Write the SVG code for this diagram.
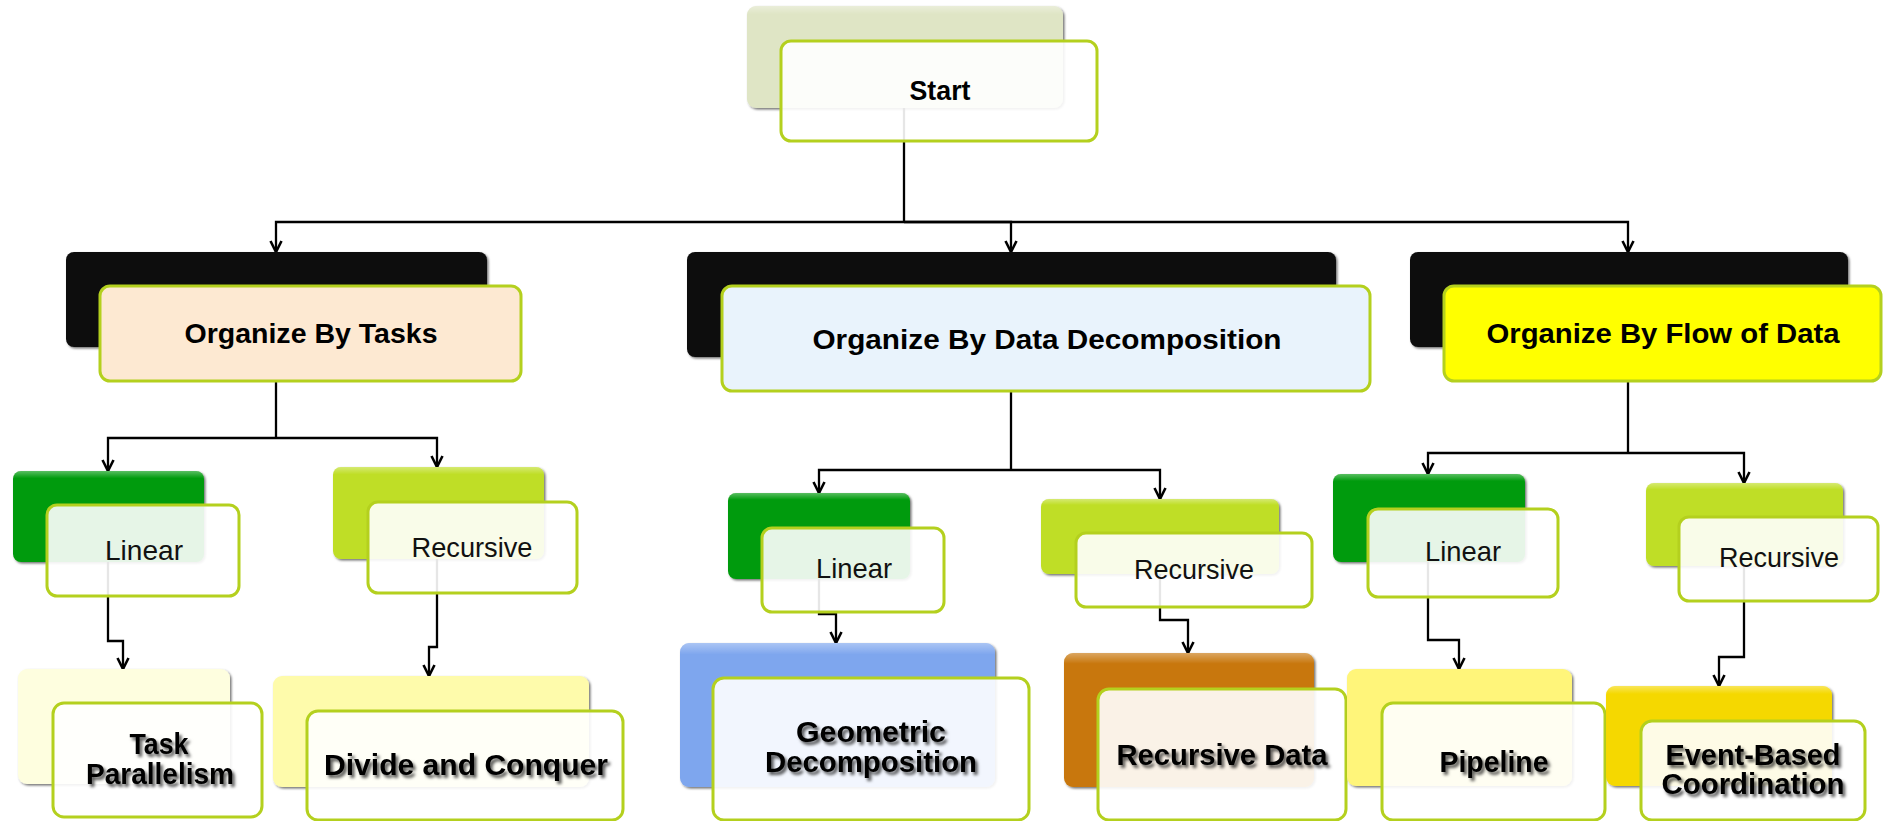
<svg xmlns="http://www.w3.org/2000/svg" width="1884" height="821" viewBox="0 0 1884 821">
  <defs>
    <!-- soft shadow under the coloured back cards -->
    <filter id="cardShadow" x="-5%" y="-5%" width="112%" height="115%">
      <feDropShadow dx="1.5" dy="1.5" stdDeviation="1.2" flood-color="#000" flood-opacity="0.55"/>
    </filter>
    <!-- blurred drop shadow behind the leaf labels -->
    <filter id="textShadow" x="-10%" y="-30%" width="125%" height="170%">
      <feDropShadow dx="2.5" dy="3" stdDeviation="1.8" flood-color="#000" flood-opacity="0.65"/>
    </filter>
    <linearGradient id="gloss" x1="0" y1="0" x2="0" y2="1">
      <stop offset="0" stop-color="#fff" stop-opacity="0.35"/>
      <stop offset="0.08" stop-color="#fff" stop-opacity="0"/>
      <stop offset="1" stop-color="#fff" stop-opacity="0"/>
    </linearGradient>
    <marker id="arrow" viewBox="0 0 14 14" refX="12.5" refY="7" markerWidth="14" markerHeight="14" markerUnits="userSpaceOnUse" orient="auto">
      <path d="M1.5,1.5 L12.5,7 L1.5,12.5" fill="none" stroke="#000" stroke-width="2.6" stroke-linejoin="miter"/>
    </marker>
    <style>
      .back { filter: url(#cardShadow); }
      .shine { fill: url(#gloss); }
      .front { fill: #fff; fill-opacity: 0.9; stroke: #b4d01e; stroke-width: 3; }
      .front-solid { stroke: #b4d01e; stroke-width: 3; }
      text { font-family: "Liberation Sans", Arial, sans-serif; font-size: 28px; text-anchor: middle; }
      .title { font-weight: bold; fill: #000; }
      .sub { fill: #111; }
      .leaf { font-weight: bold; font-size: 29px; fill: #000; filter: url(#textShadow); }
      .wire { fill: none; stroke: #000; stroke-width: 2.3; }
    </style>
  </defs>

  <rect width="1884" height="821" fill="#fff"/>

  <!-- connectors (drawn first so the translucent cards veil them) -->
  <g id="connectors">
    <path class="wire" d="M904,108 V222"/>
    <path class="wire" d="M904,222 H276 V252" marker-end="url(#arrow)"/>
    <path class="wire" d="M904,222 H1011 V252" marker-end="url(#arrow)"/>
    <path class="wire" d="M904,222 H1628 V252" marker-end="url(#arrow)"/>

    <path class="wire" d="M276,347 V438"/>
    <path class="wire" d="M276,438 H108 V471" marker-end="url(#arrow)"/>
    <path class="wire" d="M276,438 H437 V467" marker-end="url(#arrow)"/>

    <path class="wire" d="M1011,357 V470"/>
    <path class="wire" d="M1011,470 H819 V493" marker-end="url(#arrow)"/>
    <path class="wire" d="M1011,470 H1160 V499" marker-end="url(#arrow)"/>

    <path class="wire" d="M1628,347 V453"/>
    <path class="wire" d="M1628,453 H1428 V474" marker-end="url(#arrow)"/>
    <path class="wire" d="M1628,453 H1744 V483" marker-end="url(#arrow)"/>

    <path class="wire" d="M108,562 V641 H123 V669" marker-end="url(#arrow)"/>
    <path class="wire" d="M437,559 V647 H429 V676" marker-end="url(#arrow)"/>
    <path class="wire" d="M819,579 V614 H836 V643" marker-end="url(#arrow)"/>
    <path class="wire" d="M1160,574 V620 H1188 V653" marker-end="url(#arrow)"/>
    <path class="wire" d="M1428,562 V640 H1459 V669" marker-end="url(#arrow)"/>
    <path class="wire" d="M1744,566 V657 H1719 V686" marker-end="url(#arrow)"/>
  </g>

  <!-- root -->
  <g id="start">
    <rect class="back" x="747" y="6" width="316" height="102" rx="9" fill="#dfe5c5"/>
    <rect class="shine" x="747" y="6" width="316" height="102" rx="9"/>
    <rect class="front" x="781" y="41" width="316" height="100" rx="10"/>
    <text class="title" x="940" y="100" textLength="61" lengthAdjust="spacingAndGlyphs">Start</text>
  </g>

  <!-- first level -->
  <g id="by-tasks">
    <rect class="back" x="66" y="252" width="421" height="95" rx="8" fill="#0a0a0a"/>
    <rect class="front-solid" x="100" y="286" width="421" height="95" rx="10" fill="#fde9d2"/>
    <text class="title" x="311" y="343" textLength="253" lengthAdjust="spacingAndGlyphs">Organize By Tasks</text>
  </g>

  <g id="by-data-decomposition">
    <rect class="back" x="687" y="252" width="649" height="105" rx="8" fill="#0a0a0a"/>
    <rect class="front-solid" x="722" y="286" width="648" height="105" rx="10" fill="#e9f3fc"/>
    <text class="title" x="1047" y="349" textLength="469" lengthAdjust="spacingAndGlyphs">Organize By Data Decomposition</text>
  </g>

  <g id="by-flow-of-data">
    <rect class="back" x="1410" y="252" width="438" height="95" rx="8" fill="#0a0a0a"/>
    <rect class="front-solid" x="1444" y="286" width="437" height="95" rx="10" fill="#ffff00"/>
    <text class="title" x="1663" y="343" textLength="353" lengthAdjust="spacingAndGlyphs">Organize By Flow of Data</text>
  </g>

  <!-- second level -->
  <g id="tasks-linear">
    <rect class="back" x="13" y="471" width="191" height="91" rx="8" fill="#009b0b"/>
    <rect class="shine" x="13" y="471" width="191" height="91" rx="8"/>
    <rect class="front" x="47" y="505" width="192" height="91" rx="10"/>
    <text class="sub" x="144" y="560" textLength="78" lengthAdjust="spacingAndGlyphs">Linear</text>
  </g>

  <g id="tasks-recursive">
    <rect class="back" x="333" y="467" width="211" height="92" rx="8" fill="#bfde28"/>
    <rect class="shine" x="333" y="467" width="211" height="92" rx="8"/>
    <rect class="front" x="368" y="502" width="209" height="91" rx="10"/>
    <text class="sub" x="472" y="557" textLength="121" lengthAdjust="spacingAndGlyphs">Recursive</text>
  </g>

  <g id="data-linear">
    <rect class="back" x="728" y="493" width="182" height="86" rx="8" fill="#009b0b"/>
    <rect class="shine" x="728" y="493" width="182" height="86" rx="8"/>
    <rect class="front" x="762" y="528" width="182" height="84" rx="10"/>
    <text class="sub" x="854" y="578" textLength="76" lengthAdjust="spacingAndGlyphs">Linear</text>
  </g>

  <g id="data-recursive">
    <rect class="back" x="1041" y="499" width="238" height="75" rx="8" fill="#bfde28"/>
    <rect class="shine" x="1041" y="499" width="238" height="75" rx="8"/>
    <rect class="front" x="1076" y="533" width="236" height="74" rx="10"/>
    <text class="sub" x="1194" y="579" textLength="120" lengthAdjust="spacingAndGlyphs">Recursive</text>
  </g>

  <g id="flow-linear">
    <rect class="back" x="1333" y="474" width="192" height="88" rx="8" fill="#009b0b"/>
    <rect class="shine" x="1333" y="474" width="192" height="88" rx="8"/>
    <rect class="front" x="1368" y="509" width="190" height="88" rx="10"/>
    <text class="sub" x="1463" y="561" textLength="76" lengthAdjust="spacingAndGlyphs">Linear</text>
  </g>

  <g id="flow-recursive">
    <rect class="back" x="1646" y="483" width="197" height="83" rx="8" fill="#bfde28"/>
    <rect class="shine" x="1646" y="483" width="197" height="83" rx="8"/>
    <rect class="front" x="1679" y="517" width="199" height="84" rx="10"/>
    <text class="sub" x="1779" y="567" textLength="120" lengthAdjust="spacingAndGlyphs">Recursive</text>
  </g>

  <!-- patterns -->
  <g id="task-parallelism">
    <rect class="back" x="18" y="669" width="212" height="115" rx="9" fill="#fefedf"/>
    <rect class="front" x="53" y="703" width="209" height="114" rx="11"/>
    <text class="leaf" x="159" y="754" textLength="59" lengthAdjust="spacingAndGlyphs">Task</text>
    <text class="leaf" x="160" y="784" textLength="148" lengthAdjust="spacingAndGlyphs">Parallelism</text>
  </g>

  <g id="divide-and-conquer">
    <rect class="back" x="273" y="676" width="316" height="111" rx="9" fill="#fefbab"/>
    <rect class="front" x="307" y="711" width="316" height="109" rx="11"/>
    <text class="leaf" x="466" y="775" textLength="284" lengthAdjust="spacingAndGlyphs">Divide and Conquer</text>
  </g>

  <g id="geometric-decomposition">
    <rect class="back" x="680" y="643" width="315" height="144" rx="9" fill="#7ea6ee"/>
    <rect class="shine" x="680" y="643" width="315" height="144" rx="9"/>
    <rect class="front" x="713" y="678" width="316" height="142" rx="11"/>
    <text class="leaf" x="871" y="742" textLength="150" lengthAdjust="spacingAndGlyphs">Geometric</text>
    <text class="leaf" x="871" y="772" textLength="212" lengthAdjust="spacingAndGlyphs">Decomposition</text>
  </g>

  <g id="recursive-data">
    <rect class="back" x="1064" y="653" width="250" height="134" rx="9" fill="#c87708"/>
    <rect class="shine" x="1064" y="653" width="250" height="134" rx="9"/>
    <rect class="front" x="1098" y="689" width="248" height="131" rx="11"/>
    <text class="leaf" x="1222" y="765" textLength="211" lengthAdjust="spacingAndGlyphs">Recursive Data</text>
  </g>

  <g id="pipeline">
    <rect class="back" x="1347" y="669" width="225" height="117" rx="9" fill="#fff57a"/>
    <rect class="front" x="1382" y="703" width="223" height="117" rx="11"/>
    <text class="leaf" x="1494" y="772" textLength="109" lengthAdjust="spacingAndGlyphs">Pipeline</text>
  </g>

  <g id="event-based-coordination">
    <rect class="back" x="1606" y="686" width="226" height="100" rx="9" fill="#f5d800"/>
    <rect class="shine" x="1606" y="686" width="226" height="100" rx="9"/>
    <rect class="front" x="1641" y="721" width="224" height="99" rx="11"/>
    <text class="leaf" x="1753" y="765" textLength="175" lengthAdjust="spacingAndGlyphs">Event-Based</text>
    <text class="leaf" x="1753" y="794" textLength="183" lengthAdjust="spacingAndGlyphs">Coordination</text>
  </g>
</svg>
